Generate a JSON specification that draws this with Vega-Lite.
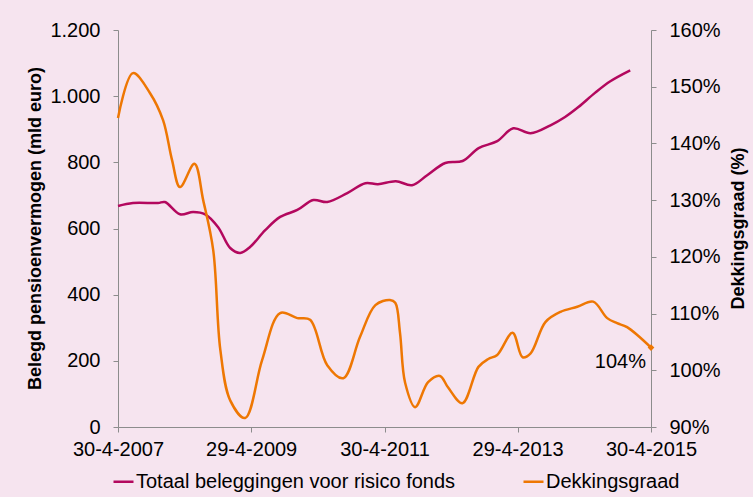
{
  "$schema": "https://vega.github.io/schema/vega-lite/v6.json",
  "width": 533,
  "height": 397,
  "autosize": {"type": "none"},
  "padding": {"left": 118, "top": 30, "right": 102, "bottom": 70},
  "background": "#F6E4EF",
  "config": {
    "font": "Liberation Sans",
    "view": {"stroke": null},
    "axis": {"grid": false, "domainColor": "#8C8C8C", "tickColor": "#8C8C8C", "labelFont": "Liberation Sans", "labelFontSize": 20, "labelColor": "#000000", "titleFont": "Liberation Sans", "titleFontSize": 18, "titleColor": "#000000", "titleFontWeight": "bold", "tickSize": 5}
  },
  "datasets": {
    "totaal": [
      {"datum": "2007-04-30", "waarde": 668},
      {"datum": "2007-07-21", "waarde": 677},
      {"datum": "2007-12-05", "waarde": 677},
      {"datum": "2008-01-12", "waarde": 680},
      {"datum": "2008-04-04", "waarde": 643},
      {"datum": "2008-06-15", "waarde": 650},
      {"datum": "2008-08-20", "waarde": 643},
      {"datum": "2008-10-30", "waarde": 604},
      {"datum": "2009-01-04", "waarde": 541},
      {"datum": "2009-02-28", "waarde": 526},
      {"datum": "2009-04-23", "waarde": 544},
      {"datum": "2009-07-15", "waarde": 595},
      {"datum": "2009-10-05", "waarde": 635},
      {"datum": "2010-01-07", "waarde": 656},
      {"datum": "2010-04-05", "waarde": 686},
      {"datum": "2010-06-20", "waarde": 680},
      {"datum": "2010-10-08", "waarde": 707},
      {"datum": "2011-01-15", "waarde": 737},
      {"datum": "2011-03-25", "waarde": 734},
      {"datum": "2011-07-01", "waarde": 743},
      {"datum": "2011-09-28", "waarde": 731},
      {"datum": "2011-12-20", "waarde": 761},
      {"datum": "2012-03-28", "waarde": 798},
      {"datum": "2012-07-01", "waarde": 804},
      {"datum": "2012-09-27", "waarde": 843},
      {"datum": "2013-01-07", "waarde": 864},
      {"datum": "2013-04-05", "waarde": 903},
      {"datum": "2013-07-09", "waarde": 888},
      {"datum": "2013-10-26", "waarde": 912},
      {"datum": "2014-01-14", "waarde": 937},
      {"datum": "2014-03-28", "waarde": 967},
      {"datum": "2014-06-27", "waarde": 1010},
      {"datum": "2014-09-19", "waarde": 1045},
      {"datum": "2015-01-06", "waarde": 1078}
    ],
    "dekking": [
      {"datum": "2007-04-30", "pct": 144.5},
      {"datum": "2007-07-21", "pct": 152.4},
      {"datum": "2007-10-22", "pct": 148.9},
      {"datum": "2008-01-02", "pct": 144.1},
      {"datum": "2008-02-20", "pct": 137.1},
      {"datum": "2008-04-04", "pct": 132.3},
      {"datum": "2008-06-22", "pct": 136.4},
      {"datum": "2008-08-09", "pct": 130.0},
      {"datum": "2008-10-03", "pct": 121.2},
      {"datum": "2008-11-11", "pct": 103.6},
      {"datum": "2009-01-04", "pct": 94.7},
      {"datum": "2009-03-27", "pct": 91.6},
      {"datum": "2009-06-28", "pct": 101.8},
      {"datum": "2009-10-05", "pct": 110.1},
      {"datum": "2010-01-07", "pct": 109.2},
      {"datum": "2010-03-18", "pct": 108.9},
      {"datum": "2010-06-20", "pct": 100.9},
      {"datum": "2010-09-16", "pct": 98.6},
      {"datum": "2010-12-17", "pct": 105.9},
      {"datum": "2011-03-11", "pct": 111.5},
      {"datum": "2011-05-30", "pct": 112.4},
      {"datum": "2011-06-28", "pct": 111.9},
      {"datum": "2011-07-24", "pct": 106.6},
      {"datum": "2011-08-21", "pct": 97.8},
      {"datum": "2011-10-15", "pct": 93.5},
      {"datum": "2011-12-25", "pct": 97.9},
      {"datum": "2012-02-28", "pct": 99.0},
      {"datum": "2012-04-12", "pct": 97.0},
      {"datum": "2012-06-30", "pct": 94.2},
      {"datum": "2012-09-26", "pct": 100.6},
      {"datum": "2012-11-19", "pct": 102.0},
      {"datum": "2013-01-07", "pct": 102.7},
      {"datum": "2013-04-01", "pct": 106.6},
      {"datum": "2013-05-26", "pct": 102.3},
      {"datum": "2013-07-09", "pct": 103.0},
      {"datum": "2013-09-28", "pct": 108.5},
      {"datum": "2013-12-20", "pct": 110.3},
      {"datum": "2014-03-22", "pct": 111.2},
      {"datum": "2014-06-17", "pct": 112.1},
      {"datum": "2014-09-02", "pct": 109.2},
      {"datum": "2014-10-26", "pct": 108.3},
      {"datum": "2014-12-20", "pct": 107.6},
      {"datum": "2015-04-30", "pct": 104.0}
    ],
    "laatste": [
      {"datum": "2015-04-30", "pct": 104.0, "label": "104%"}
    ]
  },
  "encoding": {
    "x": {
      "field": "datum",
      "type": "temporal",
      "scale": {"type": "utc", "domain": [{"year": 2007, "month": 4, "date": 30, "utc": true}, {"year": 2015, "month": 4, "date": 30, "utc": true}]},
      "axis": {
        "title": null,
        "values": [
          {"year": 2007, "month": 4, "date": 30, "utc": true},
          {"year": 2009, "month": 4, "date": 29, "utc": true},
          {"year": 2011, "month": 4, "date": 30, "utc": true},
          {"year": 2013, "month": 4, "date": 29, "utc": true},
          {"year": 2015, "month": 4, "date": 30, "utc": true}
        ],
        "labelExpr": "utcFormat(datum.value, '%-d-%-m-%Y')",
        "labelPadding": 7,
        "labelFlush": false,
        "labelOverlap": false
      }
    }
  },
  "layer": [
    {
      "data": {"name": "totaal"},
      "mark": {"type": "line", "interpolate": "catmull-rom", "strokeWidth": 2.5},
      "encoding": {
        "y": {
          "field": "waarde",
          "type": "quantitative",
          "scale": {"domain": [0, 1200], "nice": false},
          "axis": {
            "orient": "left",
            "title": "Belegd pensioenvermogen  (mld euro)",
            "values": [0, 200, 400, 600, 800, 1000, 1200],
            "labelExpr": "replace(format(datum.value, ','), ',', '.')",
            "labelPadding": 13,
            "titleX": -83,
            "titleY": 198,
            "titleAlign": "center",
            "titleBaseline": "middle"
          }
        },
        "color": {
          "datum": "Totaal beleggingen voor risico fonds",
          "type": "nominal",
          "scale": {"domain": ["Totaal beleggingen voor risico fonds", "Dekkingsgraad"], "range": ["#B3085E", "#EE7703"]},
          "legend": {
            "title": null,
            "orient": "none",
            "legendX": -6,
            "legendY": 440,
            "direction": "horizontal",
            "symbolType": "stroke",
            "symbolSize": 400,
            "symbolStrokeWidth": 2.5,
            "labelFont": "Liberation Sans",
            "labelFontSize": 20,
            "labelColor": "#000000",
            "labelOffset": 1,
            "columnPadding": 62,
            "labelLimit": 500
          }
        }
      }
    },
    {
      "layer": [
        {
          "data": {"name": "dekking"},
          "mark": {"type": "line", "interpolate": "catmull-rom", "strokeWidth": 2.5},
          "encoding": {
            "y": {
              "field": "pct",
              "type": "quantitative",
              "scale": {"domain": [90, 160], "nice": false},
              "axis": {
                "orient": "right",
                "title": "Dekkingsgraad (%)",
                "titleAngle": 270,
                "values": [90, 100, 110, 120, 130, 140, 150, 160],
                "labelExpr": "datum.value + '%'",
                "labelPadding": 13,
                "titleX": 87,
                "titleY": 198,
                "titleAlign": "center",
                "titleBaseline": "middle"
              }
            },
            "color": {"datum": "Dekkingsgraad", "type": "nominal"}
          }
        },
        {
          "data": {"name": "laatste"},
          "mark": {"type": "point", "shape": "diamond", "filled": true, "size": 45, "color": "#EE7703", "opacity": 1},
          "encoding": {
            "y": {"field": "pct", "type": "quantitative", "scale": {"domain": [90, 160], "nice": false}}
          }
        },
        {
          "data": {"name": "laatste"},
          "mark": {"type": "text", "align": "right", "baseline": "middle", "dx": -5, "dy": 14, "font": "Liberation Sans", "fontSize": 20, "color": "#000000"},
          "encoding": {
            "y": {"field": "pct", "type": "quantitative", "scale": {"domain": [90, 160], "nice": false}},
            "text": {"field": "label"}
          }
        }
      ]
    }
  ],
  "resolve": {"scale": {"y": "independent"}}
}
